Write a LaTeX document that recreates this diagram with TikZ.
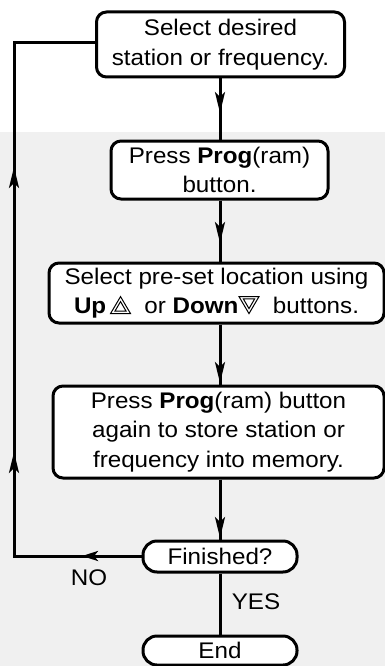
\documentclass[tikz,border=0pt]{standalone}
\usepackage{fontspec}
\setmainfont[FakeStretch=1.07]{Liberation Sans}
\usetikzlibrary{arrows.meta,calc}

% outlined triangles with an inner outline, used for the Up/Down keys
\newcommand\keyup{\tikz[baseline=0pt,x=1pt,y=1pt,sharp corners,line width=1pt,line join=miter]{%
  \draw (0,0)--(20,0)--(10,17)--cycle;
  \draw (4.4,2.4)--(15.6,2.4)--(10,12)--cycle;}}
\newcommand\keydown{\tikz[baseline=0pt,x=1pt,y=1pt,sharp corners,line width=1pt,line join=miter]{%
  \draw (0,17)--(20,17)--(10,0)--cycle;
  \draw (4.4,14.6)--(15.6,14.6)--(10,5)--cycle;}}

\tikzset{
  stepbox/.style={draw, line width=3pt, rounded corners=10pt, fill=white,
    align=center, inner sep=0pt, font=\fontsize{22.6}{29.5}\selectfont},
  termbox/.style={stepbox, rounded corners=14pt},
  flow/.style={line width=3pt},
  tip/.style={line width=3pt, -{Stealth[length=21pt,width=10pt,inset=5pt]}},
  tipshort/.style={line width=3pt, -{Stealth[length=16pt,width=10pt,inset=4pt]}},
  lbl/.style={font=\fontsize{22.6}{24}\selectfont, inner sep=0pt},
}

\begin{document}
\begin{tikzpicture}[x=1pt,y=-1pt]
  \useasboundingbox (0,0) rectangle (385,666);
  \fill[white] (0,0) rectangle (385,666);
  \fill[black!6] (0,132) rectangle (385,666);

  \node[stepbox, minimum width=248pt, minimum height=65pt] (s1) at (220.5,44.5)
    {Select desired\\station or frequency.};
  \node[stepbox, minimum width=217pt, minimum height=58pt] (s2) at (219.5,170)
    {Press \textbf{Prog}(ram)\\button.};
  \node[stepbox, minimum width=335pt, minimum height=60pt] (s3) at (216.5,293)
    {Select pre-set location using\\\textbf{Up}\,\keyup\ \ or \textbf{Down}\keydown\ \ buttons.};
  \node[stepbox, minimum width=331pt, minimum height=92pt] (s4) at (218.5,432)
    {Press \textbf{Prog}(ram) button\\again to store station or\\frequency into memory.};
  \node[termbox, minimum width=154pt, minimum height=31pt] (fin) at (220,556.5) {Finished?};
  \node[termbox, minimum width=154pt, minimum height=29pt] (end) at (220,650.5) {End};

  % main downward flow, with the arrowhead close to the next box
  \coordinate (a1) at (220,113);
  \coordinate (a2) at (220,243);
  \coordinate (a3) at (220,383);
  \coordinate (a4) at (220,538);
  \draw[flow] (s1.south -| a1) -- (s2.north -| a1);
  \draw[tip] (s1.south -| a1) -- (a1);
  \draw[flow] (s2.south -| a2) -- (s3.north -| a2);
  \draw[tip] (s2.south -| a2) -- (a2);
  \draw[flow] (s3.south -| a3) -- (s4.north -| a3);
  \draw[tip] (s3.south -| a3) -- (a3);
  \draw[flow] (s4.south -| a4) -- (fin.north -| a4);
  \draw[tip] (s4.south -| a4) -- (a4);
  \draw[flow] (fin.south) -- (end.north);

  % loop back when not finished
  \coordinate (lb) at (14,556);
  \coordinate (lt) at (14,43);
  \coordinate (n1) at (82,556);
  \coordinate (u1) at (14,452);
  \coordinate (u2) at (14,167);
  \draw[flow, line join=miter] (fin.west |- lb) -- (lb) -- (lt) -- (s1.west |- lt);
  \draw[tipshort] (fin.west |- lb) -- (n1);
  \draw[tip] (lb) -- (u1);
  \draw[tip] (lb) -- (u2);

  \node[lbl] (no) at (89,578) {NO};
  \node[lbl] (yes) at (256,602) {YES};
\end{tikzpicture}
\end{document}
